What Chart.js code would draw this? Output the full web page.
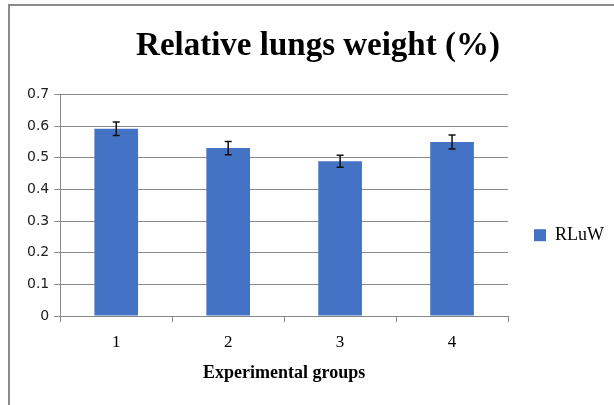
<!DOCTYPE html>
<html>
<head>
<meta charset="utf-8">
<script src="https://cdn.jsdelivr.net/npm/chart.js@4/dist/chart.umd.min.js"></script>
<style>
  html, body { margin: 0; padding: 0; background: #fff; }
  #wrap { width: 614px; height: 405px; position: relative; }
</style>
</head>
<body>
<div id="wrap"><canvas id="lungChart" width="614" height="405"></canvas></div>
<script>
// 数据
const groups = ["1", "2", "3", "4"];
const rluw = [0.592, 0.531, 0.489, 0.550];
const rluwErr = [0.021, 0.021, 0.019, 0.022];

// 误差线 + 外框
const errorBars = {
  id: "errorBars",
  afterDatasetsDraw(chart) {
    const ctx = chart.ctx;
    const y = chart.scales.y;
    const meta = chart.getDatasetMeta(0);
    ctx.save();
    ctx.strokeStyle = "#111";
    ctx.lineWidth = 1.5;
    meta.data.forEach((bar, i) => {
      const top = y.getPixelForValue(rluw[i] + rluwErr[i]);
      const bot = y.getPixelForValue(rluw[i] - rluwErr[i]);
      const x = bar.x;
      ctx.beginPath();
      ctx.moveTo(x, top); ctx.lineTo(x, bot);
      ctx.moveTo(x - 3.5, top); ctx.lineTo(x + 3.5, top);
      ctx.moveTo(x - 3.5, bot); ctx.lineTo(x + 3.5, bot);
      ctx.stroke();
    });
    ctx.restore();
  },
  beforeDraw(chart) {
    const ctx = chart.ctx;
    ctx.save();
    ctx.strokeStyle = "#8c8c8c";
    ctx.lineWidth = 2;
    ctx.beginPath();
    ctx.moveTo(9, chart.height);
    ctx.lineTo(9, 5);
    ctx.lineTo(chart.width, 5);
    ctx.stroke();
    ctx.restore();
  }
};

const ctx = document.getElementById("lungChart").getContext("2d");
const lungChart = new Chart(ctx, {
  type: "bar",
  data: {
    labels: groups,
    datasets: [
      {
        label: "RLuW",
        data: rluw,
        backgroundColor: "#4472c4",
        borderWidth: 0,
        barPercentage: 0.39,
        categoryPercentage: 1.0,
      },
    ],
  },
  options: {
    responsive: false,
    animation: false,
    layout: { padding: { left: 22, right: 0, top: 12, bottom: 17 } },
    plugins: {
      title: {
        display: true,
        text: "Relative lungs weight (%)",
        color: "#000",
        font: { family: "'Liberation Serif', 'Times New Roman', serif", size: 33, weight: "bold" },
        padding: { top: 15, bottom: 28 },
      },
      legend: {
        position: "right",
        title: {
          display: true,
          text: " ",
          font: { size: 12 },
          padding: { top: 56, bottom: 0 },
        },
        labels: {
          boxWidth: 12,
          boxHeight: 12,
          padding: 26,
          color: "#000",
          font: { family: "'Liberation Serif', serif", size: 18 },
        },
      },
      tooltip: { enabled: false },
    },
    scales: {
      x: {
        grid: { display: true, drawOnChartArea: false, color: "#888", tickLength: 6, offset: true },
        border: { color: "#888" },
        ticks: { color: "#000", padding: 10, font: { family: "'Liberation Serif', serif", size: 17 } },
        title: {
          display: true,
          text: "Experimental groups",
          color: "#000",
          font: { family: "'Liberation Serif', serif", size: 18, weight: "bold" },
          padding: { top: 0 },
        },
      },
      y: {
        min: 0,
        max: 0.7,
        ticks: { stepSize: 0.1, color: "#222", padding: 5, font: { family: "'DejaVu Sans', sans-serif", size: 14 } },
        grid: { color: "#8a8a8a", tickLength: 6 },
        border: { color: "#888" },
      },
    },
  },
  plugins: [errorBars],
});
</script>
</body>
</html>
